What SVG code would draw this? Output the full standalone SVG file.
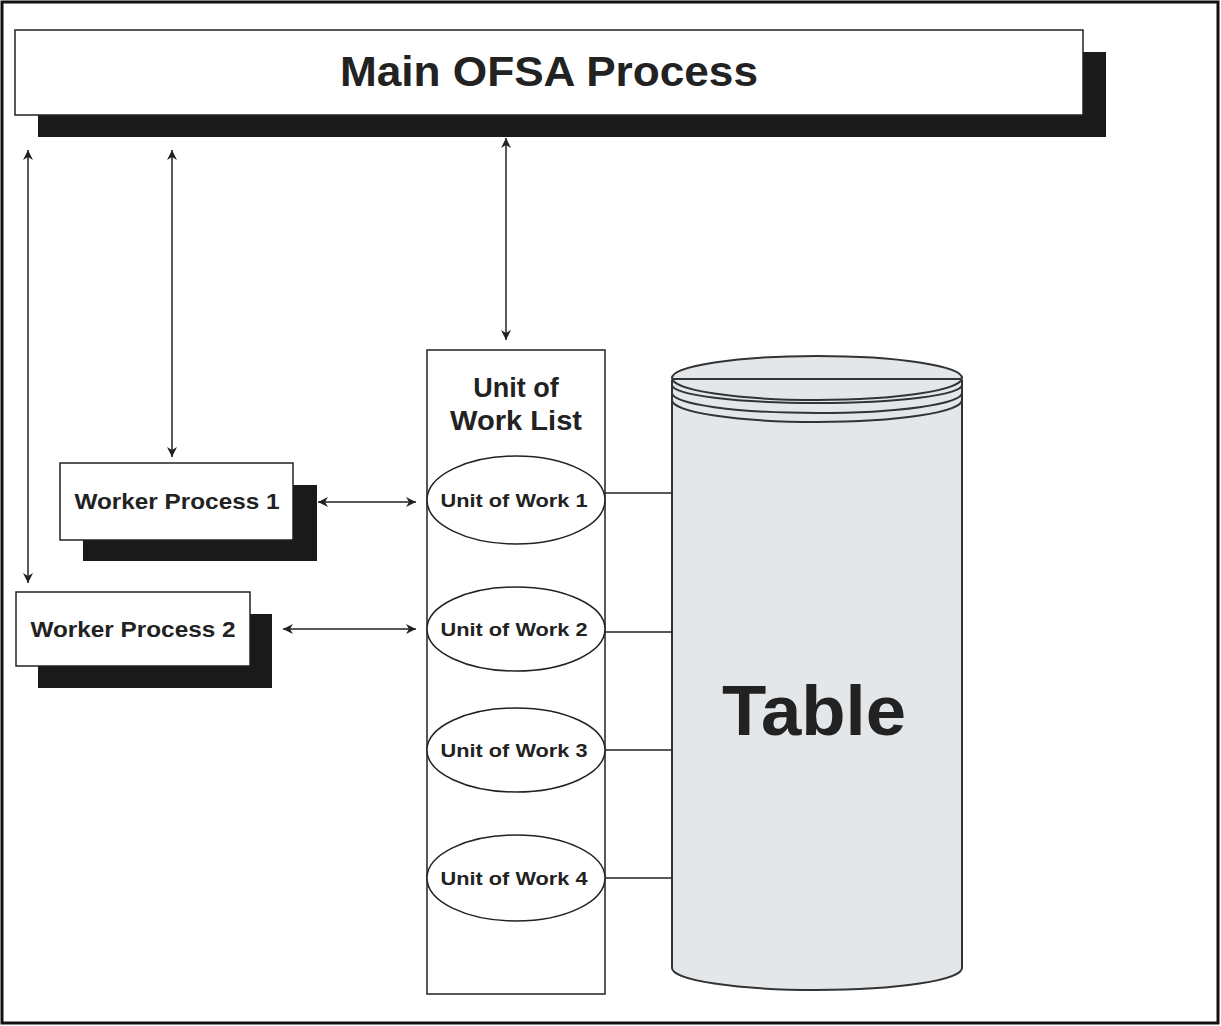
<svg xmlns="http://www.w3.org/2000/svg" width="1221" height="1026" viewBox="0 0 1221 1026">
<style>
.box{fill:#fff;stroke:#222;stroke-width:1.5}
.sh{fill:#1a1a1a}
.t{font-family:"Liberation Sans",Arial,sans-serif;font-weight:bold;fill:#222;text-anchor:middle}
.c{stroke:#222;stroke-width:1.5;fill:none}
.cy{fill:#e3e7ea;stroke:#333;stroke-width:2}
</style>
<defs>
<marker id="a" viewBox="0 0 10 10" refX="10" refY="5" markerWidth="10" markerHeight="10" orient="auto-start-reverse" markerUnits="userSpaceOnUse"><path d="M0,0 L10,5 L0,10 L3,5 z" fill="#222"/></marker>
</defs>
<rect x="0" y="0" width="1221" height="1026" fill="#fff"/>
<rect x="2" y="2" width="1216" height="1021" fill="none" stroke="#111" stroke-width="3"/>
<g id="main"><rect class="sh" x="38" y="52" width="1068" height="85"/><rect class="box" x="15" y="30" width="1068" height="85"/><text class="t" x="549" y="86" font-size="42" textLength="418" lengthAdjust="spacingAndGlyphs">Main OFSA Process</text></g>
<g id="wp1"><rect class="sh" x="83" y="485" width="234" height="76"/><rect class="box" x="60" y="463" width="233" height="77"/><text class="t" x="177" y="509" font-size="22" textLength="205" lengthAdjust="spacingAndGlyphs">Worker Process 1</text></g>
<g id="wp2"><rect class="sh" x="38" y="614" width="234" height="74"/><rect class="box" x="16" y="592" width="234" height="74"/><text class="t" x="133" y="637" font-size="22" textLength="205" lengthAdjust="spacingAndGlyphs">Worker Process 2</text></g>
<g id="uwl"><rect class="box" x="427" y="350" width="178" height="644"/><text class="t" x="516" y="397" font-size="27">Unit of</text><text class="t" x="516" y="430" font-size="27" textLength="132" lengthAdjust="spacingAndGlyphs">Work List</text></g>
<g id="uw1"><ellipse class="box" cx="516" cy="500" rx="89" ry="44"/><text class="t" x="514" y="507" font-size="19" textLength="147" lengthAdjust="spacingAndGlyphs">Unit of Work 1</text></g>
<g id="uw2"><ellipse class="box" cx="516" cy="629" rx="89" ry="42"/><text class="t" x="514" y="636" font-size="19" textLength="147" lengthAdjust="spacingAndGlyphs">Unit of Work 2</text></g>
<g id="uw3"><ellipse class="box" cx="516" cy="750" rx="89" ry="42"/><text class="t" x="514" y="757" font-size="19" textLength="147" lengthAdjust="spacingAndGlyphs">Unit of Work 3</text></g>
<g id="uw4"><ellipse class="box" cx="516" cy="878" rx="89" ry="43"/><text class="t" x="514" y="885" font-size="19" textLength="147" lengthAdjust="spacingAndGlyphs">Unit of Work 4</text></g>
<g id="table">
<path class="cy" d="M672,380 L672,968 A145,22 0 0 0 962,968 L962,380"/>
<path class="cy" d="M672,400 A145,22 0 0 0 962,400"/>
<path class="cy" d="M672,393 A145,20 0 0 0 962,393"/>
<path class="cy" d="M672,385 A145,18 0 0 0 962,385"/>
<ellipse class="cy" cx="817" cy="378" rx="145" ry="22"/>
<line x1="672" y1="379" x2="962" y2="379" stroke="#333" stroke-width="2"/>
<text class="t" x="814" y="735" font-size="70" textLength="184" lengthAdjust="spacingAndGlyphs">Table</text>
</g>
<g id="connectors">
<line class="c" x1="28" y1="150" x2="28" y2="583" marker-start="url(#a)" marker-end="url(#a)"/>
<line class="c" x1="172" y1="150" x2="172" y2="457" marker-start="url(#a)" marker-end="url(#a)"/>
<line class="c" x1="506" y1="138" x2="506" y2="340" marker-start="url(#a)" marker-end="url(#a)"/>
<line class="c" x1="318" y1="502" x2="416" y2="502" marker-start="url(#a)" marker-end="url(#a)"/>
<line class="c" x1="283" y1="629" x2="416" y2="629" marker-start="url(#a)" marker-end="url(#a)"/>
<line class="c" x1="605" y1="493" x2="672" y2="493"/>
<line class="c" x1="605" y1="632" x2="672" y2="632"/>
<line class="c" x1="605" y1="750" x2="672" y2="750"/>
<line class="c" x1="605" y1="878" x2="672" y2="878"/>
</g>
</svg>
